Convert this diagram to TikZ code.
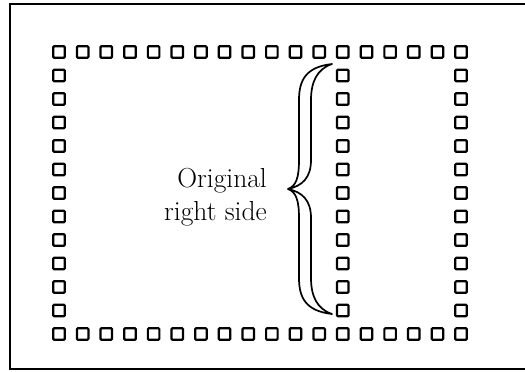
\documentclass[tikz,border=0pt]{standalone}
\begin{document}
\begin{tikzpicture}[x=1pt,y=-1pt,
  pad/.style={draw=black,line width=2.2pt,rounded corners=1pt,minimum size=11.5pt,inner sep=0pt,fill=white},
  frameline/.style={line width=1.8pt},
  bracestroke/.style={line width=1.7pt,line join=round},
  lbl/.style={font=\fontsize{27.5}{33}\selectfont,inner sep=0pt}]
\useasboundingbox (0,0) rectangle (525,372);
% frame (open on the right)
\coordinate (ftr) at (525,4);
\coordinate (ftl) at (10,4);
\coordinate (fbl) at (10,369);
\coordinate (fbr) at (525,369);
\draw[frameline] (ftr) -- (ftl) -- (fbl) -- (fbr);
% pads: top and bottom rows
\foreach \i in {0,...,17}{
  \node[pad] (t\i) at ({59+23.65*\i},52) {};
  \node[pad] (b\i) at ({59+23.65*\i},334) {};
}
% pads: three columns
\foreach \j in {1,...,11}{
  \node[pad] (l\j) at (59,{52+23.5*\j}) {};
  \node[pad] (m\j) at ({59+23.65*12},{52+23.5*\j}) {};
  \node[pad] (r\j) at ({59+23.65*17},{52+23.5*\j}) {};
}
% brace
\coordinate (btop) at (332,64);
\coordinate (bbot) at (332,314);
\coordinate (btip) at (288,189);
\draw[bracestroke,fill=white]
  (btop) .. controls (306,67) and (299,80) .. (299,100) -- (299,160)
  .. controls (299,178) and (296,186) .. (btip)
  .. controls (296,192) and (299,200) .. (299,218) -- (299,278)
  .. controls (299,298) and (306,311) .. (bbot)
  .. controls (317,309) and (311,296) .. (311,278) -- (311,218)
  .. controls (311,200) and (302,192) .. (btip)
  .. controls (302,186) and (311,178) .. (311,160) -- (311,100)
  .. controls (311,82) and (317,69) .. (btop) -- cycle;
% label
\node[lbl,anchor=base east] (orig) at (267,187) {Original};
\node[lbl,anchor=base east] (rside) at (267,220) {right side};
\end{tikzpicture}
\end{document}
